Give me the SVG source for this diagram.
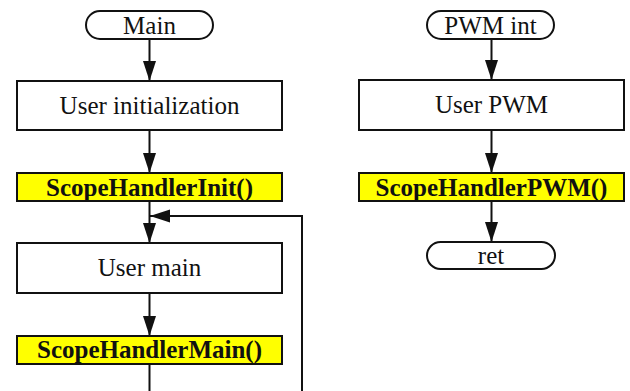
<svg xmlns="http://www.w3.org/2000/svg" width="630" height="391" viewBox="0 0 630 391">
<style>
.box{fill:#fff;stroke:#111;stroke-width:2}
.hl{fill:#ffff00;stroke:#111;stroke-width:2}
.t{font-family:"Liberation Serif","Times New Roman",serif;font-size:25px;fill:#111;text-anchor:middle}
.b{font-weight:bold}
.c{fill:none;stroke:#111;stroke-width:2}
</style>
<defs>
<marker id="ah" markerUnits="userSpaceOnUse" markerWidth="20" markerHeight="14" refX="20" refY="6.5" orient="auto">
<path d="M0,0 L20,6.5 L0,13 z" fill="#111"/>
</marker>
</defs>
<rect width="630" height="391" fill="#fff"/>
<g id="connectors">
<line class="c" x1="149.5" y1="39" x2="149.5" y2="81" marker-end="url(#ah)"/>
<line class="c" x1="149.5" y1="130" x2="149.5" y2="173" marker-end="url(#ah)"/>
<line class="c" x1="149.5" y1="201" x2="149.5" y2="243" marker-end="url(#ah)"/>
<line class="c" x1="149.5" y1="293" x2="149.5" y2="336" marker-end="url(#ah)"/>
<line class="c" x1="149.5" y1="364" x2="149.5" y2="392"/>
<polyline class="c" points="302,392 302,216 150,216" marker-end="url(#ah)"/>
<line class="c" x1="491.5" y1="39" x2="491.5" y2="80" marker-end="url(#ah)"/>
<line class="c" x1="491.5" y1="130" x2="491.5" y2="173" marker-end="url(#ah)"/>
<line class="c" x1="491.5" y1="201" x2="491.5" y2="242" marker-end="url(#ah)"/>
</g>
<g id="main">
<rect class="box" x="86" y="11" width="127" height="28" rx="14"/>
<text class="t" x="149.5" y="33.5">Main</text>
</g>
<g id="user-init">
<rect class="box" x="17" y="81" width="265" height="49"/>
<text class="t" x="149.5" y="113.5">User initialization</text>
</g>
<g id="scope-init">
<rect class="hl" x="17" y="173" width="265" height="28"/>
<text class="t b" x="149.5" y="195.5">ScopeHandlerInit()</text>
</g>
<g id="user-main">
<rect class="box" x="17" y="243" width="265" height="50"/>
<text class="t" x="149.5" y="276">User main</text>
</g>
<g id="scope-main">
<rect class="hl" x="17" y="336" width="265" height="28"/>
<text class="t b" x="149.5" y="357.5">ScopeHandlerMain()</text>
</g>
<g id="pwm-int">
<rect class="box" x="427" y="11" width="127" height="28" rx="14"/>
<text class="t" x="490.5" y="33.5">PWM int</text>
</g>
<g id="user-pwm">
<rect class="box" x="359" y="80" width="265" height="50"/>
<text class="t" x="491.5" y="113">User PWM</text>
</g>
<g id="scope-pwm">
<rect class="hl" x="359" y="173" width="265" height="28"/>
<text class="t b" x="491.5" y="195.5">ScopeHandlerPWM()</text>
</g>
<g id="ret">
<rect class="box" x="427" y="242" width="128" height="27" rx="13.5"/>
<text class="t" x="491" y="263.5">ret</text>
</g>
</svg>
